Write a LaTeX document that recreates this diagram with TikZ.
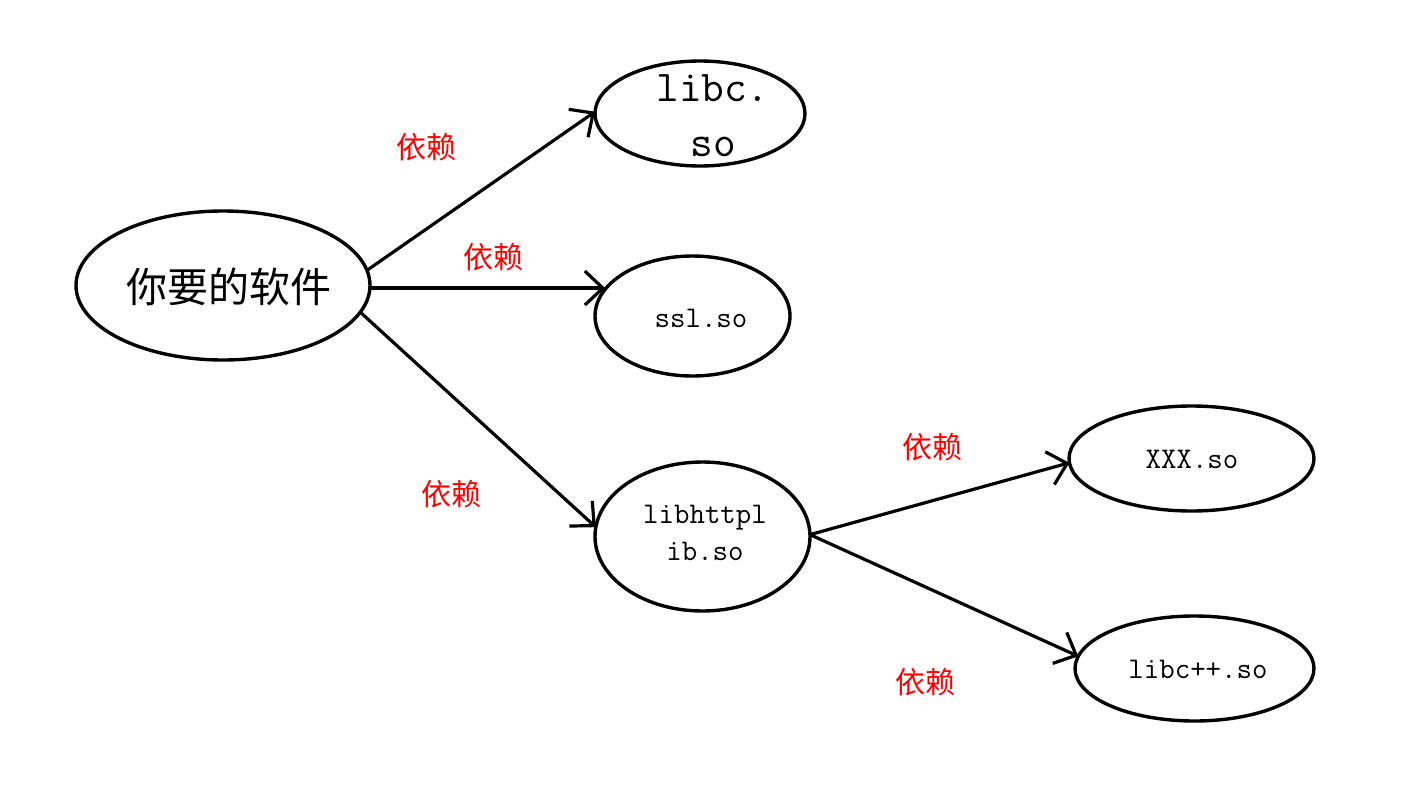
\documentclass[tikz,border=0pt]{standalone}
\usepackage{fontspec}
\newfontfamily\cjk{Noto Sans CJK SC}
\usetikzlibrary{shapes.geometric,arrows.meta}
\begin{document}
\begin{tikzpicture}[x=0.5pt,y=-0.5pt,
  ell/.style={draw,ellipse,line width=1.7pt,inner sep=0pt,outer sep=0pt},
  lib/.style={font=\ttfamily\fontsize{15}{18.5}\selectfont,inner sep=0pt,align=center},
  dep/.style={font=\cjk\fontsize{15}{18}\selectfont,text=red,inner sep=0pt},
  arr/.style={line width=1.6pt,-{Straight Barb[length=9pt,width=17pt]}}]
\useasboundingbox[fill=white] (0,0) rectangle (1424,787);
% ellipses
\node[ell,minimum width=147pt,minimum height=74.5pt] (main) at (223,285.5) {};
\node[ell,minimum width=105pt,minimum height=52.5pt] (libc) at (700,113.5) {};
\node[ell,minimum width=97.5pt,minimum height=60pt] (ssl) at (692.5,316) {};
\node[ell,minimum width=107.5pt,minimum height=74.5pt] (http) at (702.5,536.5) {};
\node[ell,minimum width=122.5pt,minimum height=52.5pt] (xxx) at (1191.5,458.5) {};
\node[ell,minimum width=119.5pt,minimum height=52.5pt] (libcpp) at (1194.5,668.5) {};
% texts
\node[font=\cjk\fontsize{20.5}{24}\selectfont,inner sep=0pt] (mainT) at (228.5,287) {你要的软件};
\node[lib,font=\ttfamily\fontsize{22}{27.5}\selectfont] (libcT) at (713,116) {libc.\\so};
\node[lib] (sslT) at (701,318) {ssl.so};
\node[lib] (httpT) at (705,533) {libhttpl\\ib.so};
\node[lib] (xxxT) at (1192,459) {XXX.so};
\node[lib] (libcppT) at (1198,669) {libc++.so};
% edges
\draw[arr] (main.6.5) -- (libc.179);
\draw[arr] (main.-1.4) -- (main.-1.4 -| ssl.163);
\draw[arr] (main.-11.2) -- (http.175);
\draw[arr] (http.1.8) -- (xxx.182);
\draw[arr] (http.1.8) -- (libcpp.174);
% labels
\node[dep] (d1) at (426.5,147) {依赖};
\node[dep] (d2) at (493.5,257) {依赖};
\node[dep] (d3) at (451.5,494) {依赖};
\node[dep] (d4) at (932.5,447) {依赖};
\node[dep] (d5) at (925.5,682) {依赖};
\end{tikzpicture}
\end{document}
